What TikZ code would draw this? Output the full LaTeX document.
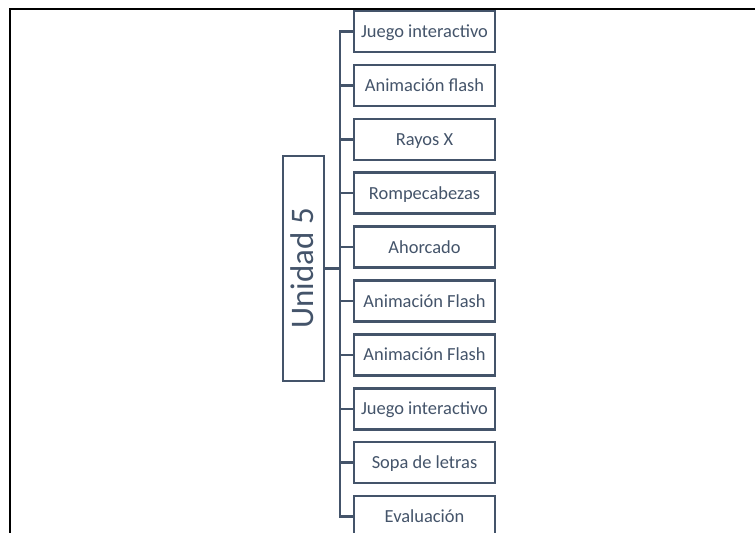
\documentclass[tikz,border=0pt]{standalone}
\usepackage{fontspec}
\setmainfont{Carlito}
\definecolor{slate}{HTML}{44546A}
\begin{document}
\begin{tikzpicture}[x=1bp,y=-1bp,
  conn/.style={draw=slate, line width=2.5bp},
  itembox/.style={draw=slate, line width=2.5bp, fill=white, text=slate,
    minimum width=140.6bp, minimum height=41bp, inner sep=0pt,
    text height=13bp, text depth=1bp,
    font=\fontsize{18.5}{20}\selectfont},
  unitbox/.style={draw=slate, line width=2.5bp, fill=white, text=slate,
    rotate=90, minimum width=225bp, minimum height=41bp, inner sep=0pt,
    text height=21bp, text depth=2bp,
    font=\fontsize{33}{36}\selectfont}]
\useasboundingbox (0,0) rectangle (755,533);
\clip (0,0) rectangle (755,533);
\fill[white] (0,0) rectangle (755,533);

\foreach \t [count=\i] in {Juego interactivo, Animación flash, Rayos X, Rompecabezas, Ahorcado, Animación Flash, Animación Flash, Juego interactivo, Sopa de letras, Evaluación}{
  \node[itembox] (b\i) at (424.5, {31.5+53.9*(\i-1)}) {\t};
}
\node[unitbox] (u) at (303.5,268.3) {Unidad 5};
\coordinate (hub) at (340,268.3);

\draw[conn] (u.south) -- (hub);
\draw[conn] (b1.west) -- (hub |- b1.west) -- (hub |- b10.west) -- (b10.west);
\foreach \i in {2,...,9}{
  \draw[conn] (b\i.west) -- (hub |- b\i.west);
}

\draw[black, line width=2bp] (10,533) -- (10,9) -- (755,9);
\end{tikzpicture}
\end{document}
